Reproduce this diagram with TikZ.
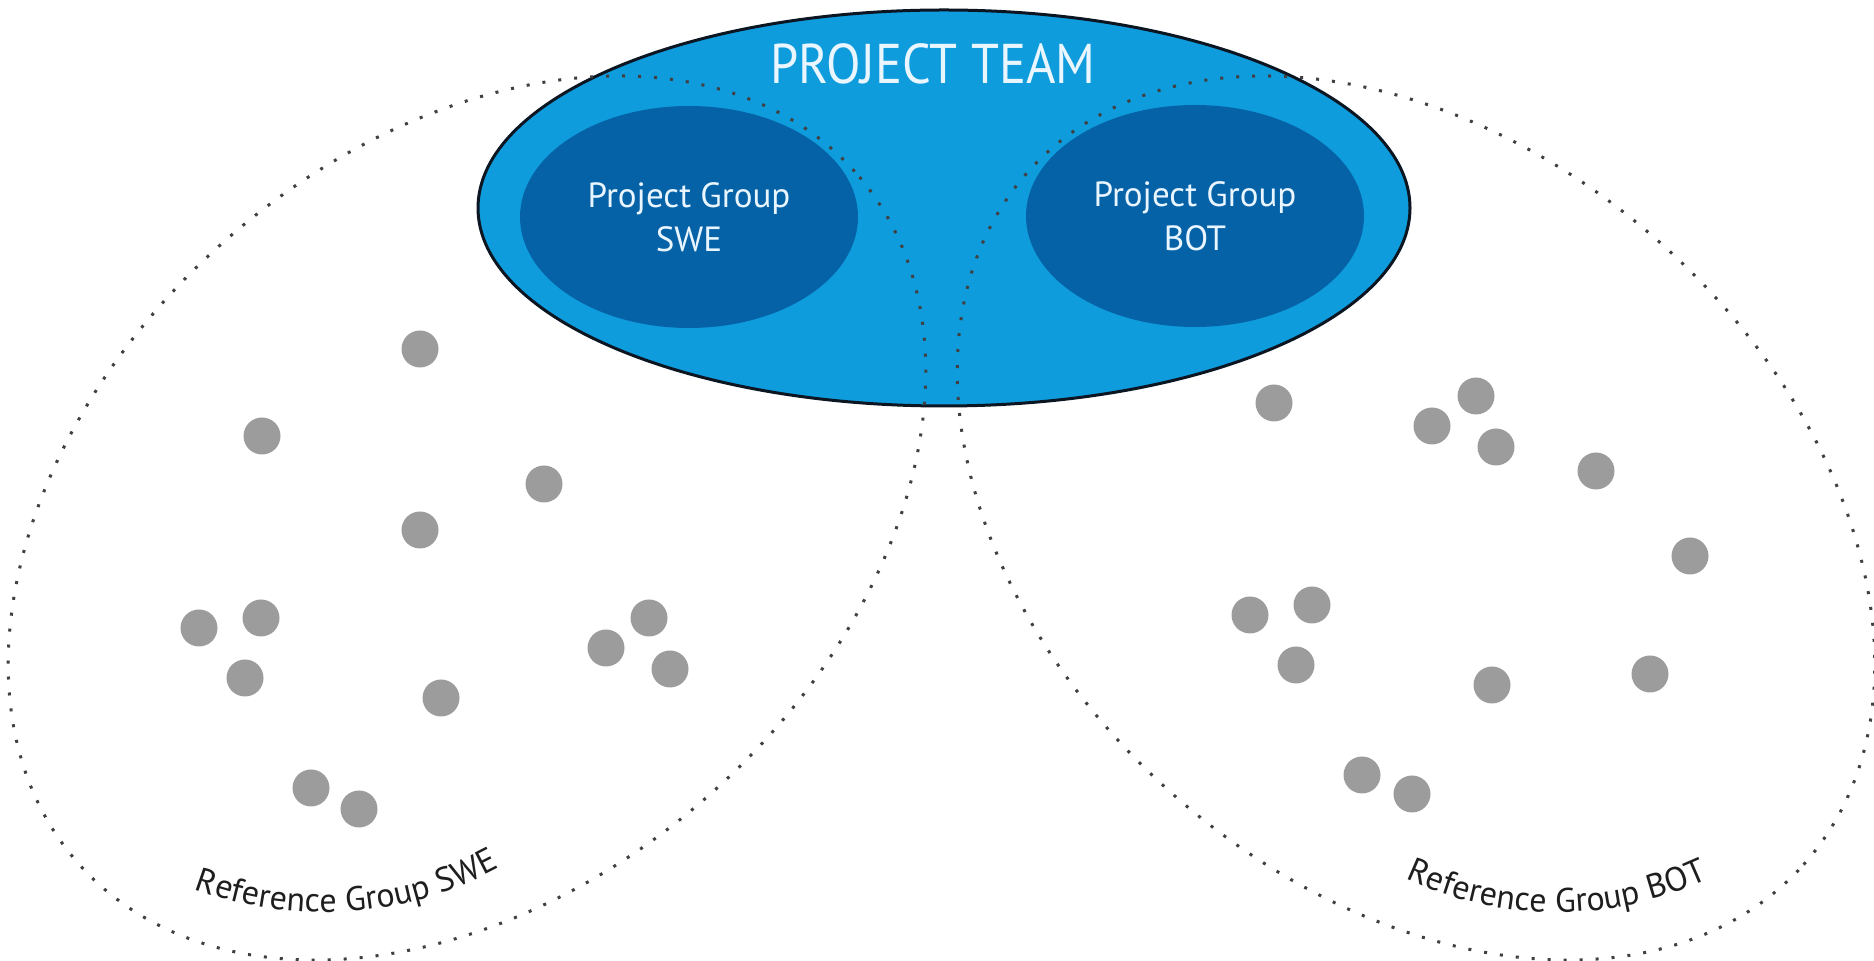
\documentclass[tikz,border=0pt]{standalone}
\usepackage{fontspec}
\setmainfont{PT Sans}
\newfontfamily\teamfont[FakeStretch=0.9]{PT Sans}
\usetikzlibrary{shapes.geometric,decorations.text}
\definecolor{team}{HTML}{0E9CDD}
\definecolor{group}{HTML}{0662A6}
\definecolor{rim}{HTML}{0B1622}
\definecolor{member}{HTML}{9C9C9C}
\definecolor{label}{HTML}{EAF6FF}
\definecolor{ink}{HTML}{1E1E1E}
\tikzset{
  teamFill/.style={ellipse, fill=team, draw=rim, line width=3pt, inner sep=0pt},
  groupFill/.style={ellipse, fill=group, inner sep=0pt, minimum width=338pt, minimum height=222pt},
  refLine/.style={draw=ink!85, line width=3pt, dash pattern=on 3pt off 13pt},
  person/.style={circle, fill=member, minimum size=37pt, inner sep=0pt},
  lab/.style={text=label, font=\fontsize{35}{44}\selectfont, align=center},
  teamLab/.style={text=label, font=\teamfont\fontsize{56}{56}\selectfont},
  refLab/.style={decorate, decoration={text along path, text align=center, text color=ink,
    text={|\fontsize{34}{34}\selectfont|#1}}}
}
\begin{document}
\begin{tikzpicture}[x=1pt,y=1pt]
\useasboundingbox (0,0) rectangle (1874,961);
% project team
\node[teamFill, minimum width=932pt, minimum height=396pt] (team) at (944,753) {};
% reference groups
\draw[refLine, rotate around={41.8:(467,443)}] (467,443) ellipse [x radius=520, y radius=368];
\draw[refLine, rotate around={-41.8:(1416,443)}] (1416,443) ellipse [x radius=520, y radius=368];
% project groups
\node[groupFill, lab] (sweGrp) at (689,744) {Project Group\\SWE};
\node[groupFill, lab] (botGrp) at (1195,745) {Project Group\\BOT};
\node[teamLab] (teamLbl) at (933,897) {PROJECT TEAM};
% members
\foreach \x/\y [count=\i] in {420/612, 262/525, 544/477, 420/431, 199/333, 261/343, 245/283,
  441/263, 606/313, 649/343, 670/292, 311/173, 359/152}
  \node[person] (swe\i) at (\x,\y) {};
\foreach \x/\y [count=\i] in {1274/558, 1476/565, 1432/535, 1496/514, 1596/490, 1690/405, 1250/346,
  1312/356, 1296/296, 1492/276, 1650/287, 1362/186, 1412/167}
  \node[person] (bot\i) at (\x,\y) {};
% labels
\path[refLab={Reference Group SWE}] (166.8,83.4) arc[start angle=245, end angle=303, radius=370];
\path[refLab={Reference Group BOT}] (1382.5,93.9) arc[start angle=241, end angle=299, radius=360];
\end{tikzpicture}
\end{document}
